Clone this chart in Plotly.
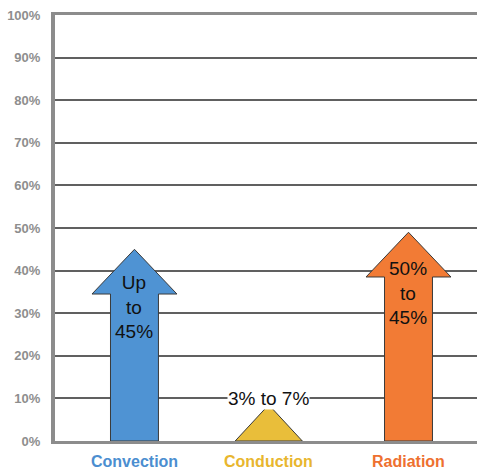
import plotly.graph_objects as go

categories = ["Convection", "Conduction", "Radiation"]
values = [45, 8.5, 49]
label_texts = ["Up<br>to<br>45%", "3% to 7%", "50%<br>to<br>45%"]
fill_colors = ["#4F93D3", "#E9BE3A", "#F27B35"]
label_colors = ["#4B8ED0", "#E8B62E", "#EE7030"]
y_ticks = [0, 10, 20, 30, 40, 50, 60, 70, 80, 90, 100]
y_tick_labels = ["0%", "10%", "20%", "30%", "40%", "50%", "60%", "70%", "80%", "90%", "100%"]
shapes_kind = ["arrow", "triangle", "arrow"]

xpos = [0, 0.98, 2.0]
shaft_half = 0.175
head_half = 0.31
head_len = 10.5
tri_half = 0.245

fig = go.Figure()
for i, cat in enumerate(categories):
    c = xpos[i]
    v = values[i]
    if shapes_kind[i] == "arrow":
        xs = [c - shaft_half, c - shaft_half, c - head_half, c, c + head_half,
              c + shaft_half, c + shaft_half, c - shaft_half]
        ys = [0, v - head_len, v - head_len, v, v - head_len, v - head_len, 0, 0]
    else:
        xs = [c - tri_half, c, c + tri_half, c - tri_half]
        ys = [0, v, 0, 0]
    fig.add_trace(go.Scatter(
        x=xs, y=ys, mode="lines", fill="toself", fillcolor=fill_colors[i],
        line=dict(color="#3a3a3a", width=1), hoverinfo="skip", showlegend=False,
    ))

txt_font = dict(family="Liberation Sans, Arial", size=19, color="#111")
fig.add_annotation(x=xpos[0], y=31.5, text=label_texts[0], showarrow=False, font=txt_font)
fig.add_annotation(x=xpos[2], y=34.7, text=label_texts[2], showarrow=False, font=txt_font)
fig.add_annotation(x=xpos[1], y=10, text=label_texts[1], showarrow=False,
                   bgcolor="white", borderpad=0, font=txt_font)

for i, cat in enumerate(categories):
    fig.add_annotation(x=xpos[i], y=0, xref="x", yref="paper", yanchor="top",
                       yshift=-10, text="<b>" + cat + "</b>", showarrow=False,
                       font=dict(family="Liberation Sans, Arial", size=16,
                                 color=label_colors[i]))

fig.update_layout(
    width=477, height=470,
    margin=dict(l=55, r=0, t=15, b=29),
    paper_bgcolor="white", plot_bgcolor="white",
    xaxis=dict(range=[-0.58, 2.5], showgrid=False, zeroline=False,
               showticklabels=False, showline=True, mirror=True,
               linecolor="#8c8c8c", linewidth=3, fixedrange=True),
    yaxis=dict(range=[0, 100], tickvals=y_ticks, ticktext=y_tick_labels,
               showgrid=True, gridcolor="#606060", gridwidth=1.5,
               zeroline=False, showline=True, linecolor="#8c8c8c", linewidth=4,
               ticks="", ticklabelstandoff=8, fixedrange=True,
               tickfont=dict(family="Liberation Sans, Arial", size=13,
                             color="#8e8e8e", weight="bold")),
)

fig.write_html("out.html", config={"displayModeBar": False},
               post_script="document.body.style.margin='0';"
                           "document.body.style.overflow='hidden';"
                           "document.documentElement.style.overflow='hidden';")
